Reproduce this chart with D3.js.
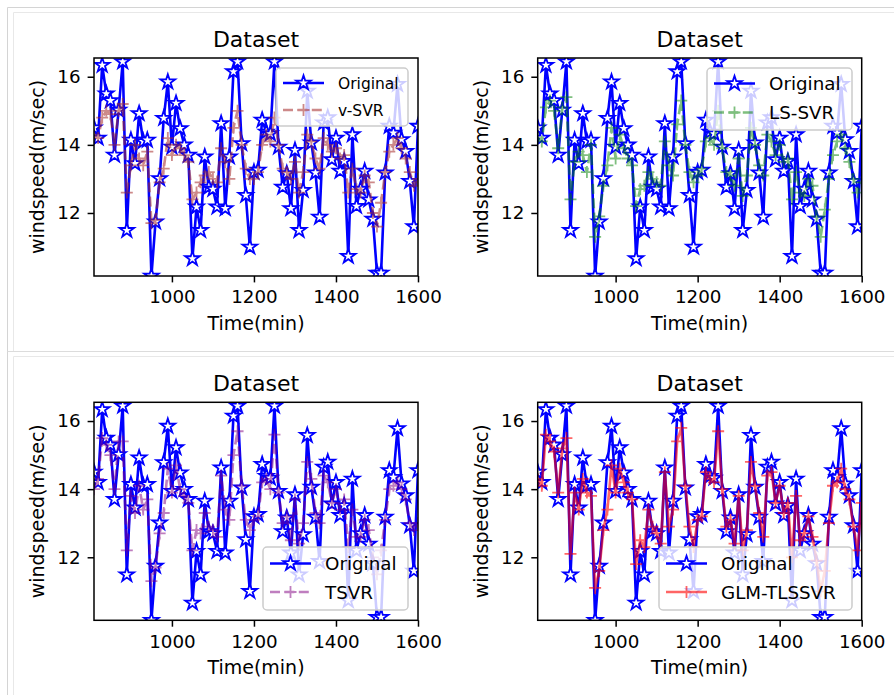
<!DOCTYPE html>
<html>
<head>
<meta charset="utf-8">
<script src="https://cdn.jsdelivr.net/npm/d3@7"></script>
<style>
  body { margin: 0; background: #fff; }
  text { font-family: "DejaVu Sans", sans-serif; fill: #000; }
</style>
</head>
<body>
<div id="chart"></div>
<script>
// time stamps (min)
var times = [810,820,830,840,850,860,870,880,890,900,910,920,930,940,950,960,970,980,990,1000,
  1010,1020,1030,1040,1050,1060,1070,1080,1090,1100,1110,1120,1130,1140,1150,1160,1170,1180,1190,1200,
  1210,1220,1230,1240,1250,1260,1270,1280,1290,1300,1310,1320,1330,1340,1350,1360,1370,1380,1390,1400,
  1410,1420,1430,1440,1450,1460,1470,1480,1490,1500,1510,1520,1530,1540,1550,1560,1570,1580,1590,1600];

var original = [14.5,14.2,16.34,15.5,15.3,13.7,15.02,16.44,11.49,14.14,
  13.45,14.92,14.1,14.14,10.15,11.74,13.01,14.78,15.85,13.94,
  15.22,14.48,14.0,13.7,10.66,12.18,11.49,13.65,12.76,12.7,
  12.18,14.63,12.13,13.65,16.15,16.44,14.04,12.52,11.0,13.2,
  13.26,14.73,14.38,14.33,16.44,13.94,12.76,13.16,12.13,13.84,
  11.49,12.67,15.58,14.06,13.18,11.88,14.65,14.8,13.57,14.2,
  13.23,13.52,10.73,14.3,12.2,12.7,13.23,12.39,11.82,10.24,
  10.24,13.18,14.55,14.35,15.78,14.16,13.81,12.93,11.6,14.55];

var vsvr = [14.3,14.2,14.8,15.0,14.9,14.0,15.0,15.2,12.6,13.4,
  14.0,13.6,13.4,13.8,11.7,11.8,12.9,13.3,14.2,13.7,
  14.0,13.9,13.7,13.5,12.4,12.6,12.9,13.1,13.2,13.0,
  12.9,13.9,13.5,13.0,14.5,15.0,14.0,13.3,13.0,13.0,
  13.2,14.0,14.3,14.1,14.8,14.0,13.3,13.2,13.0,13.5,
  12.6,13.2,14.3,14.1,13.6,13.3,14.2,14.0,13.8,13.9,
  13.6,13.7,12.6,13.3,12.7,12.6,13.1,12.9,12.0,11.6,
  12.3,13.2,13.8,14.0,14.2,13.9,13.6,13.2,12.8,13.0];

var lssvr = [14.2,14.1,15.1,15.3,15.0,13.9,15.1,15.4,12.4,13.5,
  13.8,13.7,13.2,14.0,11.3,11.9,12.8,13.4,14.5,13.6,
  14.3,13.9,13.6,13.4,12.2,12.7,12.8,13.2,13.0,12.9,
  12.8,14.1,13.4,13.1,14.6,15.3,14.0,13.2,12.9,13.1,
  13.3,14.1,14.2,14.0,15.0,13.9,13.2,13.1,12.8,13.6,
  12.5,13.1,14.5,14.0,13.4,13.1,14.3,14.1,13.7,14.0,
  13.5,13.6,12.4,13.2,12.6,12.5,13.0,12.8,11.9,11.3,
  12.1,13.0,13.7,14.1,14.3,13.9,13.5,13.0,12.6,12.9];

var tsvr = [14.0,14.3,15.5,15.3,15.0,14.0,15.4,15.4,12.2,13.8,
  13.3,14.1,13.4,13.7,11.3,11.7,12.7,13.3,14.6,13.9,
  14.7,14.0,13.8,13.6,12.2,12.8,12.7,13.3,12.9,12.8,
  12.6,14.4,13.4,13.1,15.0,15.7,14.1,13.1,12.8,13.1,
  13.2,14.2,14.3,14.0,15.6,13.9,13.0,13.2,12.5,13.7,
  12.4,13.0,14.8,14.3,13.3,13.0,14.4,14.2,13.6,14.0,
  13.4,13.7,12.3,13.4,12.6,12.6,13.1,12.8,12.0,11.5,
  12.2,13.1,14.0,14.1,14.2,14.0,13.7,13.0,12.8,13.0];

var glmtlssvr = [14.3,14.1,15.6,15.4,15.1,13.9,15.2,15.5,12.1,13.9,
  13.4,14.3,13.9,13.8,11.1,11.6,12.8,13.4,14.7,13.9,
  14.6,14.2,13.9,13.7,11.8,12.5,12.3,13.4,12.9,12.7,
  12.4,14.5,12.9,13.4,15.4,15.8,14.1,12.9,12.3,13.1,
  13.2,14.5,14.3,14.2,15.7,14.0,12.9,13.1,12.4,13.8,
  12.2,12.8,14.8,14.1,13.3,12.6,14.4,14.5,13.6,14.1,
  13.3,13.6,12.0,13.8,12.5,12.7,13.2,12.6,11.9,11.0,
  11.6,13.0,14.1,14.2,14.6,14.0,13.7,12.9,12.2,13.6];

var xTicks = [1000, 1200, 1400, 1600];
var yTicks = [12, 14, 16];
var xDomain = [810, 1600];
var yDomain = [10.15, 16.55];

var W = 894, H = 695,
    plot_w = 324, plot_h = 218;

var panels = [
  {left: 94,    top: 58,    pred: vsvr,      name: "v-SVR",      color: "#a52a2a", alpha: 0.55, dashed: true,
   legend: {x: 276, y: 68, w: 132, h: 58, fs: 15.5, row1: 83, row2: 110}},
  {left: 537.7, top: 58,    pred: lssvr,     name: "LS-SVR",     color: "#008000", alpha: 0.5,  dashed: true,
   legend: {x: 707, y: 68, w: 145, h: 62, fs: 18.3, row1: 83.5, row2: 112.5}},
  {left: 94,    top: 402.3, pred: tsvr,      name: "TSVR",       color: "#800080", alpha: 0.5,  dashed: true,
   legend: {x: 263, y: 547, w: 145, h: 63, fs: 18.3, row1: 563.5, row2: 592}},
  {left: 537.7, top: 402.3, pred: glmtlssvr, name: "GLM-TLSSVR", color: "#ff0000", alpha: 0.6,  dashed: false,
   legend: {x: 659, y: 547, w: 193, h: 63, fs: 18.3, row1: 563.5, row2: 592}}
];

var svg = d3.select("#chart").append("svg")
  .attr("width", W)
  .attr("height", H);

// notebook cell frames
var frame = svg.append("g").attr("fill", "none");
frame.append("path").attr("d", "M7.5,695V7.5H894").attr("stroke", "#d4d4d4");
frame.append("path").attr("d", "M13.5,351V12.5H894").attr("stroke", "#e8e8e8");
frame.append("path").attr("d", "M7.5,351.5H894").attr("stroke", "#dcdcdc");
frame.append("path").attr("d", "M13.5,695V356.5H894").attr("stroke", "#e8e8e8");

var starPath = d3.symbol(d3.symbolStar).size(66)(),
    plusPath = "M-6,0H6M0,-6V6";

panels.forEach(function (p, k) {
  var x = d3.scaleLinear().domain(xDomain).range([0, plot_w]),
      y = d3.scaleLinear().domain(yDomain).range([plot_h, 0]);

  var g = svg.append("g").attr("transform", "translate(" + p.left + "," + p.top + ")");

  g.append("defs").append("clipPath").attr("id", "clip" + k)
    .append("rect").attr("width", plot_w).attr("height", plot_h);

  var plot = g.append("g").attr("clip-path", "url(#clip" + k + ")");

  var line = d3.line()
    .x(function (d, i) { return x(times[i]); })
    .y(function (d) { return y(d); });

  // Original
  plot.append("path").datum(original)
    .attr("d", line)
    .attr("fill", "none")
    .attr("stroke", "#0000ff")
    .attr("stroke-width", 2.6)
    .attr("stroke-linejoin", "round");
  plot.selectAll("path.star").data(original).enter().append("path")
    .attr("class", "star")
    .attr("d", starPath)
    .attr("transform", function (d, i) { return "translate(" + x(times[i]) + "," + y(d) + ")"; })
    .attr("fill", "#fff")
    .attr("stroke", "#0000ff")
    .attr("stroke-width", 1.8);

  // predicted series
  var pg = plot.append("g").attr("opacity", p.alpha);
  pg.append("path").datum(p.pred)
    .attr("d", line)
    .attr("fill", "none")
    .attr("stroke", p.color)
    .attr("stroke-width", 2.6)
    .attr("stroke-dasharray", p.dashed ? "10,4.4" : null);
  pg.selectAll("path.plus").data(p.pred).enter().append("path")
    .attr("class", "plus")
    .attr("d", plusPath)
    .attr("transform", function (d, i) { return "translate(" + x(times[i]) + "," + y(d) + ")"; })
    .attr("stroke", p.color)
    .attr("stroke-width", 1.8);

  // axes
  var xAxis = g.append("g").attr("transform", "translate(0," + plot_h + ")")
    .call(d3.axisBottom(x).tickValues(xTicks).tickSize(6.4).tickPadding(8).tickFormat(d3.format("d")));
  var yAxis = g.append("g")
    .call(d3.axisLeft(y).tickValues(yTicks).tickSize(6.4).tickPadding(7).tickFormat(d3.format("d")));
  [xAxis, yAxis].forEach(function (a) {
    a.select(".domain").remove();
    a.selectAll(".tick line").attr("stroke", "#000").attr("stroke-width", 1.5);
    a.selectAll(".tick text").attr("font-size", "18.3px").attr("font-family", "DejaVu Sans").attr("fill", "#000");
  });

  g.append("rect")
    .attr("width", plot_w).attr("height", plot_h)
    .attr("fill", "none").attr("stroke", "#000").attr("stroke-width", 1.5);

  // titles and labels
  g.append("text")
    .attr("x", plot_w / 2).attr("y", -11.5)
    .attr("text-anchor", "middle")
    .attr("font-size", "22px")
    .text("Dataset");
  g.append("text")
    .attr("x", plot_w / 2).attr("y", plot_h + 54)
    .attr("text-anchor", "middle")
    .attr("font-size", "19px")
    .text("Time(min)");
  g.append("text")
    .attr("transform", "translate(-50," + (plot_h / 2) + ") rotate(-90)")
    .attr("text-anchor", "middle")
    .attr("font-size", "19px")
    .text("windspeed(m/sec)");

  // legend
  var L = p.legend,
      lg = svg.append("g");
  lg.append("rect")
    .attr("x", L.x).attr("y", L.y).attr("width", L.w).attr("height", L.h)
    .attr("rx", 4)
    .attr("fill", "#fff").attr("fill-opacity", 0.8)
    .attr("stroke", "#cccccc").attr("stroke-width", 1.5);
  var hx1 = L.x + 7, hx2 = hx1 + 41, tx = hx2 + 14;

  lg.append("line")
    .attr("x1", hx1).attr("x2", hx2).attr("y1", L.row1).attr("y2", L.row1)
    .attr("stroke", "#0000ff").attr("stroke-width", 2.6);
  lg.append("path")
    .attr("d", starPath)
    .attr("transform", "translate(" + ((hx1 + hx2) / 2) + "," + L.row1 + ")")
    .attr("fill", "#fff").attr("stroke", "#0000ff").attr("stroke-width", 1.8);

  var lp = lg.append("g").attr("opacity", p.alpha);
  lp.append("line")
    .attr("x1", hx1).attr("x2", hx2).attr("y1", L.row2).attr("y2", L.row2)
    .attr("stroke", p.color).attr("stroke-width", 2.6)
    .attr("stroke-dasharray", p.dashed ? "10,4.4" : null);
  lp.append("path")
    .attr("d", plusPath)
    .attr("transform", "translate(" + ((hx1 + hx2) / 2) + "," + L.row2 + ")")
    .attr("stroke", p.color).attr("stroke-width", 1.8);

  lg.append("text").attr("x", tx).attr("y", L.row1 + L.fs * 0.36)
    .attr("font-size", L.fs + "px").text("Original");
  lg.append("text").attr("x", tx).attr("y", L.row2 + L.fs * 0.36)
    .attr("font-size", L.fs + "px").text(p.name);
});
</script>
</body>
</html>
